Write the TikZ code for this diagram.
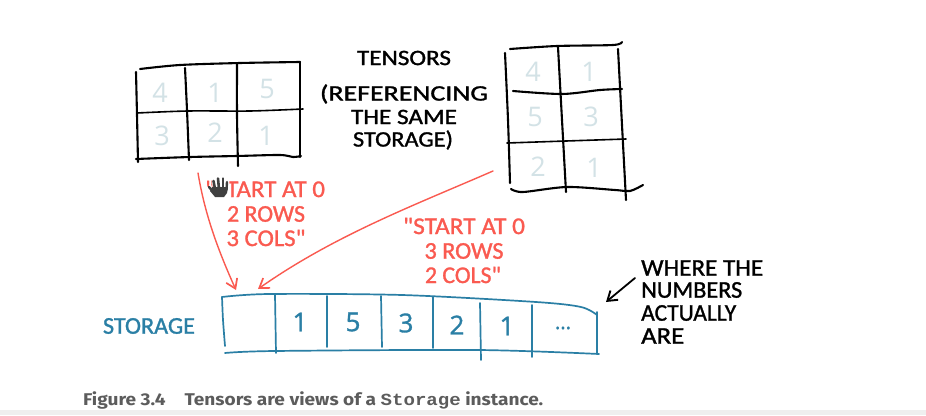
\documentclass[tikz,border=0pt]{standalone}
\usepackage{fontspec}
\usepackage{graphicx}
\usetikzlibrary{arrows.meta}
\setmainfont{Carlito}
\newfontfamily\handfont[FakeBold=1.2]{Carlito}
\newfontfamily\digitfont{Open Sans}
\newfontfamily\storedigit[FakeBold=1.2]{Open Sans}
\newfontfamily\capfont{Fira Sans}
\newfontfamily\capmono{Liberation Mono}
\definecolor{inkred}{HTML}{FA5A50}
\definecolor{inkblue}{HTML}{2A7FA5}
\definecolor{paleval}{HTML}{D3E2E6}
\definecolor{capgray}{HTML}{5C5C5C}
\definecolor{stripgray}{HTML}{EFEFEF}
\newcommand{\fitw}[2]{\resizebox{#1pt}{\height}{#2}}
\tikzset{
  x=1pt,y=-1pt,
  inkline/.style={line width=2.1pt,black,line cap=round,line join=round},
  inkthin/.style={line width=1.6pt,black,line cap=round,line join=round},
  storeline/.style={line width=1.7pt,inkblue,line cap=round,line join=round},
  label/.style={font=\handfont\fontsize{24}{24}\selectfont,text=black,inner sep=0pt},
  headlabel/.style={label,font=\handfont\fontsize{22}{22}\selectfont},
  redlabel/.style={label,text=inkred},
  bluelabel/.style={label,text=inkblue},
  cellval/.style={font=\digitfont\fontsize{27}{27}\selectfont,text=paleval,inner sep=0pt},
  storeval/.style={font=\storedigit\fontsize{26}{26}\selectfont,text=inkblue,inner sep=0pt},
  pointer/.style={line width=1.4pt,inkred,line cap=round,-{Straight Barb[length=9pt,width=12pt,line width=1.7pt]}},
  blackpointer/.style={line width=1.8pt,black,line cap=round,-{Straight Barb[length=9pt,width=12pt,line width=1.9pt]}}
}
\begin{document}
\begin{tikzpicture}
\useasboundingbox (0,0) rectangle (926,415);
\fill[white] (0,0) rectangle (926,415);
\fill[stripgray] (0,410) rectangle (926,415);

% wide tensor grid
\draw[inkline] plot[smooth] coordinates {(140,69) (180,65) (240,63) (300,62)};
\draw[inkline] plot[smooth] coordinates {(136,72) (137,115) (138,162)};
\draw[inkline] plot[smooth] coordinates {(185,68) (187,110) (189,160)};
\draw[inkline] plot[smooth] coordinates {(237,64) (237,115) (238,166)};
\draw[inkline] plot[smooth] coordinates {(300,62) (300,110) (300,157)};
\draw[inkthin] plot[smooth] coordinates {(137,113) (188,111) (250,111) (303,109)};
\draw[inkline] plot[smooth] coordinates {(136,159) (190,157) (237,156) (280,155) (293,157) (301,156)};
\node[cellval] (wa) at (160,93) {4};
\node[cellval] (wb) at (215,93) {1};
\node[cellval] (wc) at (267,89) {5};
\node[cellval] (wd) at (162,136) {3};
\node[cellval] (we) at (215,133) {2};
\node[cellval] (wf) at (266,136) {1};

% tall tensor grid
\draw[inkline] plot[smooth] coordinates {(510,49) (557,46) (613,45) (622,42)};
\draw[inkline] plot[smooth] coordinates {(505,53) (508,120) (510,183)};
\draw[inkline] plot[smooth] coordinates {(558,47) (562,120) (566,192)};
\draw[inkline] plot[smooth] coordinates {(618,49) (622,125) (626,200)};
\draw[inkline] plot[smooth] coordinates {(513,91) (562,94) (600,90) (622,89)};
\draw[inkthin] plot[smooth] coordinates {(507,143) (566,141) (626,139)};
\draw[inkline] plot[smooth] coordinates {(511,189) (523,192) (567,187) (615,190) (630,191) (643,185)};
\node[cellval] (ta) at (533,72) {4};
\node[cellval] (tb) at (589,72) {1};
\node[cellval] (tc) at (535,117) {5};
\node[cellval] (td) at (591,117) {3};
\node[cellval] (te) at (538,167) {2};
\node[cellval] (tf) at (594,168) {1};

% heading
\node[headlabel] (head1) at (404,58) {\fitw{94}{TENSORS}};
\node[headlabel] (head2) at (404,94) {\fitw{168}{(REFERENCING}};
\node[headlabel] (head3) at (404,117) {\fitw{106}{THE SAME}};
\node[headlabel] (head4) at (403,140) {\fitw{100}{STORAGE)}};

% view descriptions
\node[redlabel] (va1) at (265,189) {\fitw{120}{"START AT 0}};
\node[redlabel] (va2) at (266,214) {\fitw{78}{2 ROWS}};
\node[redlabel] (va3) at (266,238) {\fitw{79}{3 COLS"}};
\node[redlabel] (vb1) at (464,226) {\fitw{122}{"START AT 0}};
\node[redlabel] (vb2) at (464,251) {\fitw{79}{3 ROWS}};
\node[redlabel] (vb3) at (463,275) {\fitw{76}{2 COLS"}};

% storage strip
\node[bluelabel] (storelabel) at (149,326) {\fitw{92}{STORAGE}};
\draw[storeline] plot[smooth] coordinates {(222,297) (269,294) (402,295) (536,302) (581,307) (597,315)};
\draw[storeline] plot[smooth] coordinates {(222,297) (223,320) (225,346)};
\draw[storeline] (275,295) -- (276,353);
\draw[storeline] (327,296) -- (327,347);
\draw[storeline] (381,296) -- (382,347);
\draw[storeline] (433,297) -- (433,348);
\draw[storeline] (480,303) -- (481,360);
\draw[storeline] (532,305) -- (532,357);
\draw[storeline] (597,312) -- (597,354);
\draw[storeline] plot[smooth] coordinates {(225,353) (275,351) (478,350) (599,354)};
\node[storeval] (sa) at (300,322) {1};
\node[storeval] (sb) at (353,322) {5};
\node[storeval] (sc) at (406,323) {3};
\node[storeval] (sd) at (457,325) {2};
\node[storeval] (se) at (507,326) {1};
\node[storeval,font=\storedigit\fontsize{20}{20}\selectfont] (sf) at (563,328) {...};

% pointers into the storage
\coordinate (wsrc) at (198,173);
\coordinate (wdst) at (236,290);
\coordinate (tsrc) at (493,171);
\coordinate (tdst) at (258,289);
\draw[pointer] (wsrc) .. controls (205,215) and (218,250) .. (wdst);
\draw[pointer] (tsrc) .. controls (415,205) and (335,235) .. (tdst);

% note on the storage
\node[label,anchor=west] (note1) at (641,268) {\fitw{122}{WHERE THE}};
\node[label,anchor=west] (note2) at (641,290) {\fitw{101}{NUMBERS}};
\node[label,anchor=west] (note3) at (641,313) {\fitw{95}{ACTUALLY}};
\node[label,anchor=west] (note4) at (641,336) {\fitw{43}{ARE}};
\coordinate (notesrc) at (635,278);
\coordinate (notedst) at (606,302);
\draw[blackpointer] (notesrc) -- (notedst);

% grab cursor
\begin{scope}[line cap=round,color=black!75]
  \fill[white] (212,182) -- (214,176) -- (229,176) -- (230,194) -- (224,199) -- (214,199) -- cycle;
  \fill (212,187) -- (228,187) -- (227,193) -- (224,197) -- (215,197) -- (210,191) -- cycle;
  \draw[line width=2.6pt] (215,189) -- (213.5,181);
  \draw[line width=2.6pt] (219,189) -- (218,178.5);
  \draw[line width=2.6pt] (223,189) -- (223,178.5);
  \draw[line width=2.4pt] (226.5,190) -- (227,182);
  \draw[line width=2.4pt] (214,193) -- (209,187);
\end{scope}

% caption
\node[anchor=west,inner sep=0pt,text=capgray,font=\capfont\bfseries\fontsize{17}{17}\selectfont] (caption) at (83,400)
  {\fitw{460}{Figure 3.4\hspace{1em}Tensors are views of a {\capmono Storage} instance.}};
\end{tikzpicture}
\end{document}
